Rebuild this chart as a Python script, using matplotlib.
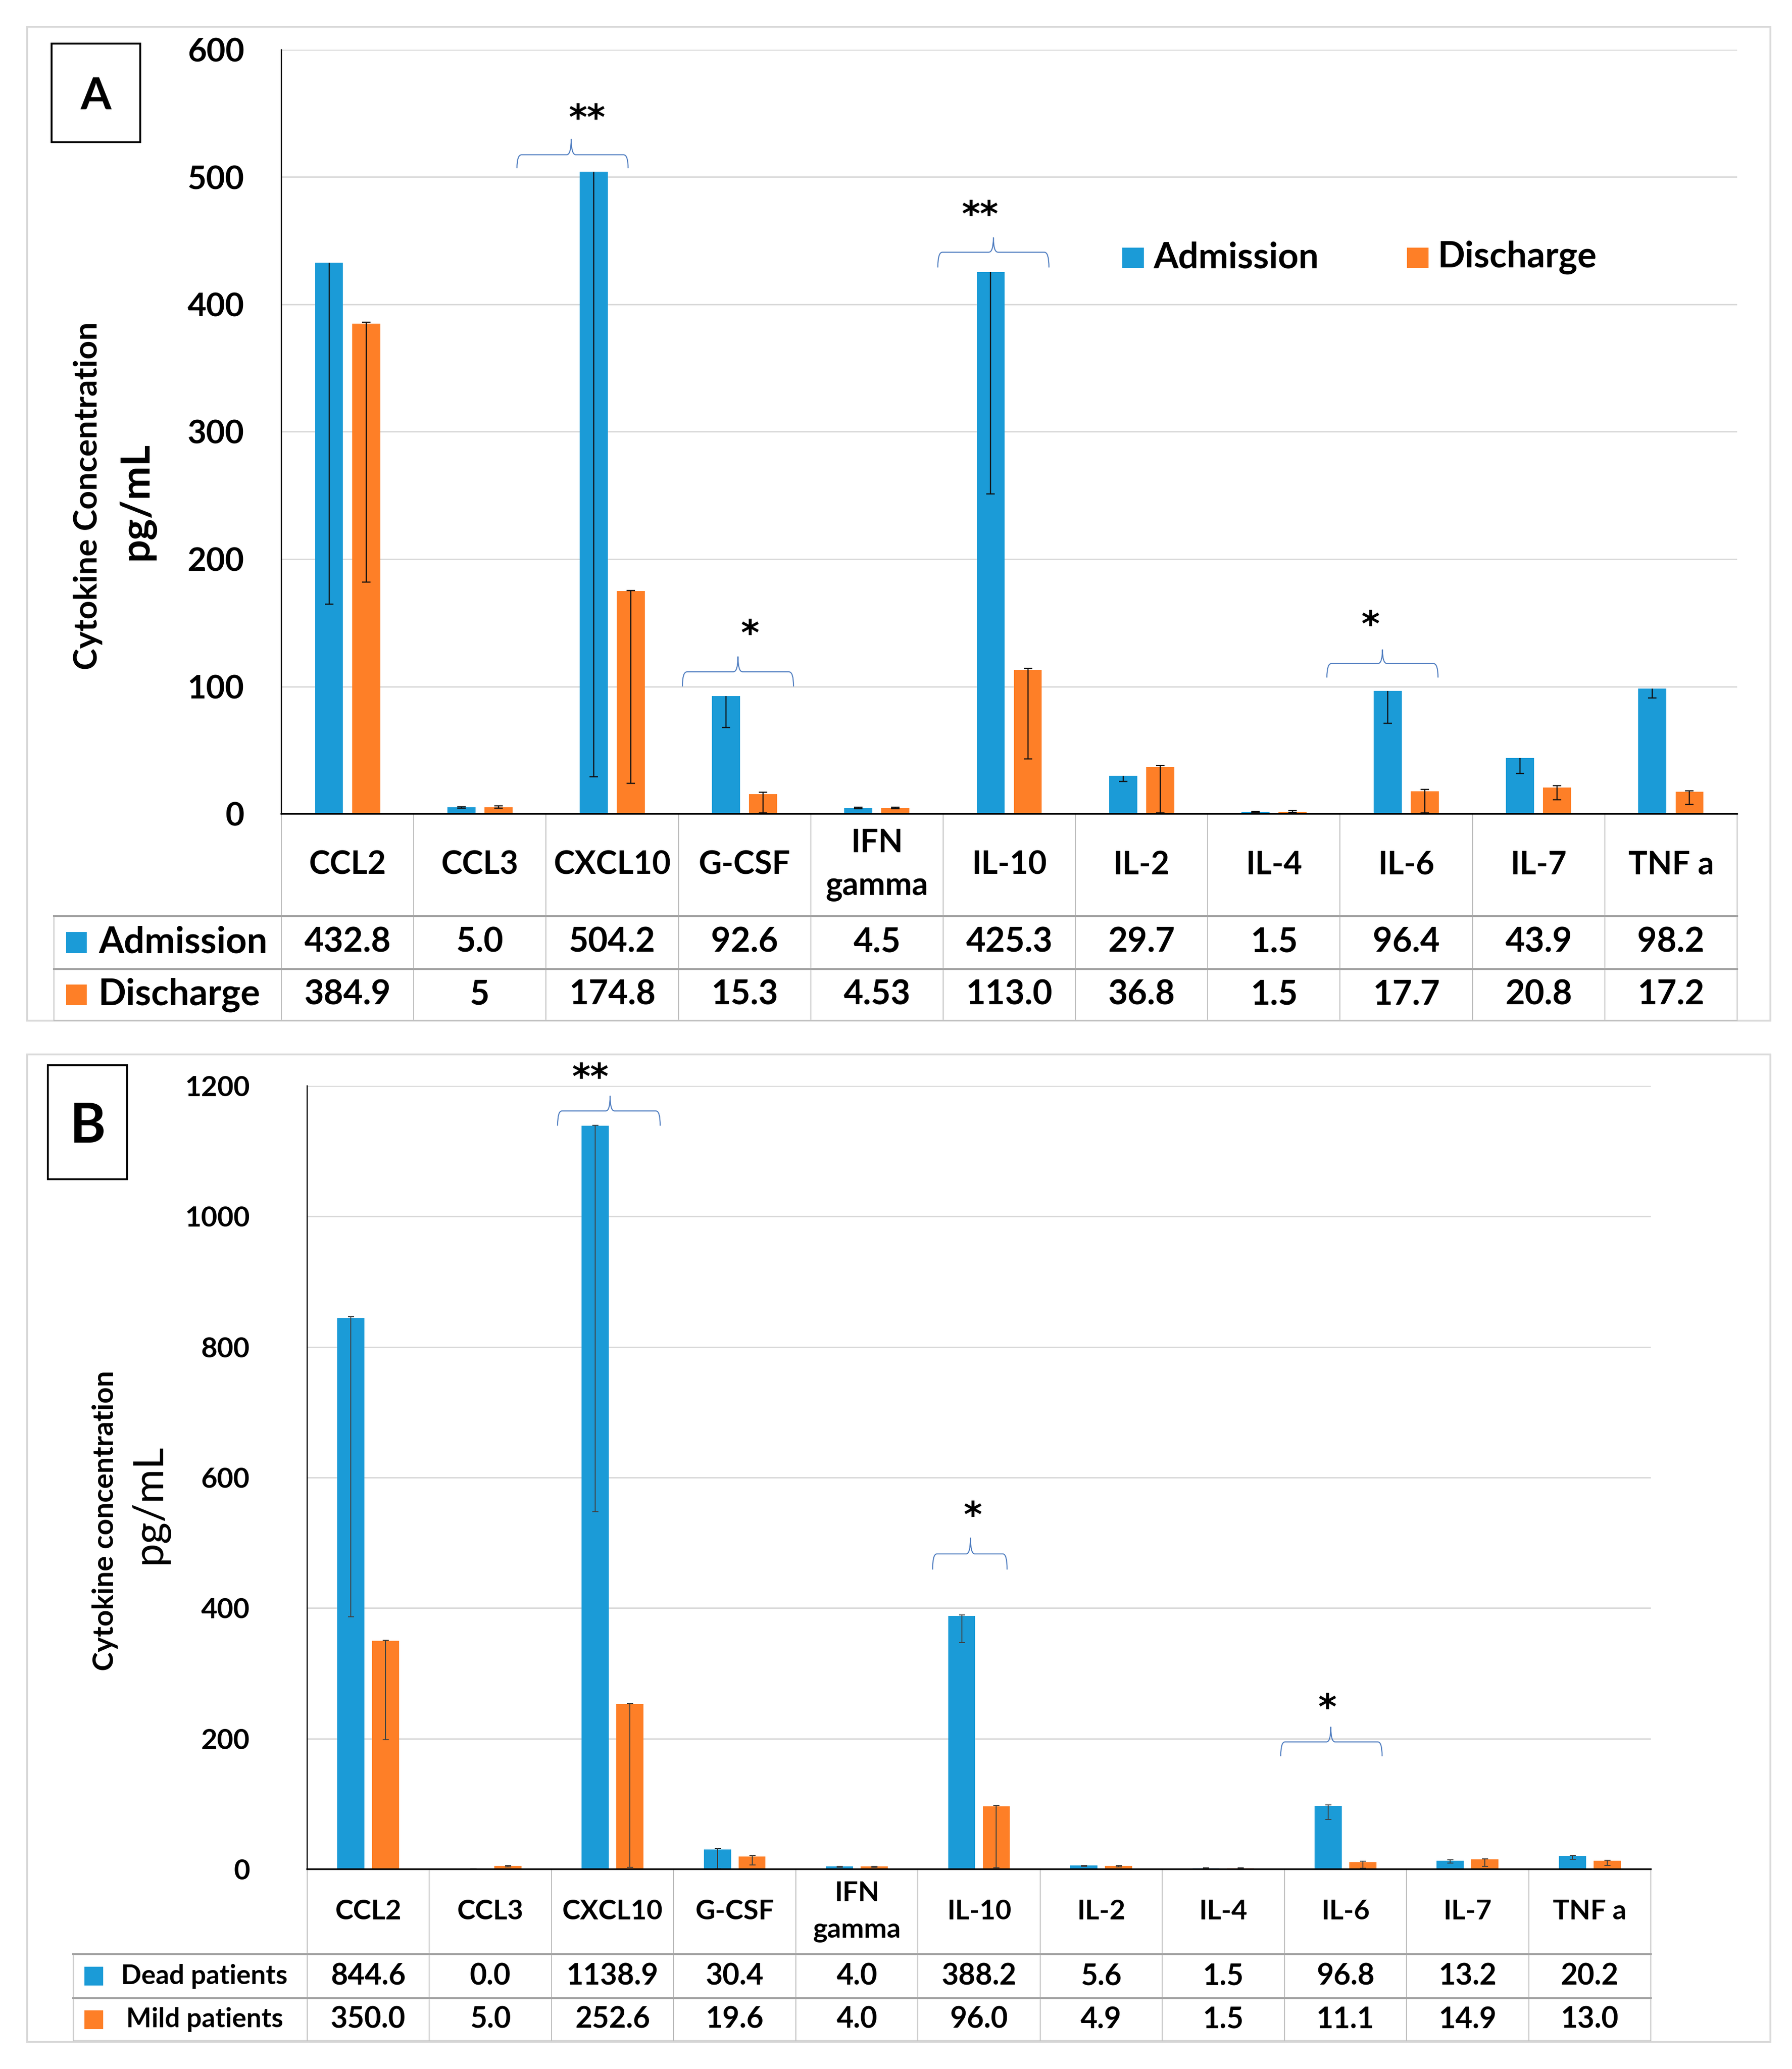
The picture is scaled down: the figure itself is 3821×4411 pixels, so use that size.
import matplotlib
matplotlib.use("Agg")
import matplotlib.pyplot as plt
import matplotlib.transforms as mtransforms
from matplotlib.patches import Rectangle, PathPatch
from matplotlib.path import Path
import numpy as np

plt.rcParams['font.family'] = ['Lato', 'DejaVu Sans']

# ---------------- data ----------------
categories = ["CCL2", "CCL3", "CXCL10", "G-CSF", "IFN\ngamma", "IL-10",
              "IL-2", "IL-4", "IL-6", "IL-7", "TNF a"]

# Panel A: admission vs discharge
a_series = ["Admission", "Discharge"]
a_admission = [432.8, 5.0, 504.2, 92.6, 4.5, 425.3, 29.7, 1.5, 96.4, 43.9, 98.2]
a_discharge = [384.9, 5.0, 174.8, 15.3, 4.53, 113.0, 36.8, 1.5, 17.7, 20.8, 17.2]
a_admission_txt = ["432.8", "5.0", "504.2", "92.6", "4.5", "425.3", "29.7", "1.5", "96.4", "43.9", "98.2"]
a_discharge_txt = ["384.9", "5", "174.8", "15.3", "4.53", "113.0", "36.8", "1.5", "17.7", "20.8", "17.2"]
a_adm_err_lo = [268.0, 0.5, 475.0, 25.0, 0.5, 174.0, 4.4, 0.3, 25.4, 12.2, 7.4]
a_adm_err_hi = [0.0, 0.5, 0.0, 0.0, 0.5, 0.0, 0.0, 0.3, 0.0, 0.0, 0.0]
a_dis_err_lo = [203.0, 0.5, 151.0, 14.5, 0.5, 70.0, 36.0, 0.5, 17.0, 9.8, 10.0]
a_dis_err_hi = [1.0, 1.3, 0.5, 1.6, 0.8, 1.2, 1.0, 1.0, 1.3, 1.3, 1.0]
a_yticks = [0, 100, 200, 300, 400, 500, 600]

# Panel B: dead vs mild patients
b_series = ["Dead patients", "Mild patients"]
b_dead = [844.6, 0.0, 1138.9, 30.4, 4.0, 388.2, 5.6, 1.5, 96.8, 13.2, 20.2]
b_mild = [350.0, 5.0, 252.6, 19.6, 4.0, 96.0, 4.9, 1.5, 11.1, 14.9, 13.0]
b_dead_txt = ["844.6", "0.0", "1138.9", "30.4", "4.0", "388.2", "5.6", "1.5", "96.8", "13.2", "20.2"]
b_mild_txt = ["350.0", "5.0", "252.6", "19.6", "4.0", "96.0", "4.9", "1.5", "11.1", "14.9", "13.0"]
b_dead_err_lo = [458.0, 0.0, 591.0, 29.5, 1.0, 41.0, 1.5, 0.5, 20.3, 4.0, 5.0]
b_dead_err_hi = [2.0, 0.5, 1.0, 1.5, 0.5, 1.5, 0.5, 0.5, 1.5, 1.0, 0.8]
b_mild_err_lo = [152.0, 1.5, 250.0, 13.0, 1.0, 94.0, 1.5, 0.5, 10.0, 10.8, 7.2]
b_mild_err_hi = [1.0, 1.0, 1.0, 1.5, 0.5, 1.5, 0.8, 0.5, 1.0, 0.8, 0.8]
b_yticks = [0, 200, 400, 600, 800, 1000, 1200]

# significance annotations: (category index, stars)
a_sig = [(2, "**"), (3, "*"), (5, "**"), (8, "*")]
b_sig = [(2, "**"), (5, "*"), (8, "*")]

# ---------------- layout helpers ----------------
W, H = 3821, 4411
DPI = 100
PT = 72.0 / DPI
fig = plt.figure(figsize=(W / DPI, H / DPI), dpi=DPI)
fig.patch.set_facecolor("white")


def fx(px):
    return px / W


def fy(py):
    return 1 - py / H


BLUE = "#1b9bd7"
ORANGE = "#fe7f27"
GRID = "#d9d9d9"
TABLE = "#bfbfbf"
BRACE = "#4f7dc0"

# brace geometry (layout, offsets relative to category centre; y in data units)
a_brace_geom = {
    2: dict(x0=-0.72, x1=0.12, xt=-0.31, ye=507, yf=517.5, yt=530, sx=-0.19, sy=553),
    3: dict(x0=-0.47, x1=0.37, xt=-0.05, ye=100, yf=111.5, yt=123.5, sx=0.04, sy=148),
    5: dict(x0=-0.54, x1=0.30, xt=-0.12, ye=429, yf=441, yt=452.5, sx=-0.22, sy=477),
    8: dict(x0=-0.60, x1=0.24, xt=-0.18, ye=107, yf=118, yt=129, sx=-0.27, sy=155),
}
b_brace_geom = {
    2: dict(x0=-0.45, x1=0.39, xt=-0.02, ye=1139, yf=1161.6, yt=1184.7, sx=-0.18, sy=1226),
    5: dict(x0=-0.38, x1=0.23, xt=-0.07, ye=459, yf=483, yt=508, sx=-0.05, sy=555),
    8: dict(x0=-0.53, x1=0.30, xt=-0.12, ye=173, yf=195, yt=218, sx=-0.15, sy=260),
}


def draw_brace(ax, xc, g, lw):
    dx = 0.035
    x0, x1, xt = xc + g["x0"], xc + g["x1"], xc + g["xt"]
    ye, yf, yt = g["ye"], g["yf"], g["yt"]
    verts = [(x0, ye), (x0, yf), (x0 + dx, yf),
             (xt - dx, yf),
             (xt, yf), (xt, yt),
             (xt, yf), (xt + dx, yf),
             (x1 - dx, yf),
             (x1, yf), (x1, ye)]
    codes = [Path.MOVETO, Path.CURVE3, Path.CURVE3,
             Path.LINETO,
             Path.CURVE3, Path.CURVE3,
             Path.CURVE3, Path.CURVE3,
             Path.LINETO,
             Path.CURVE3, Path.CURVE3]
    ax.add_patch(PathPatch(Path(verts, codes), facecolor="none",
                           edgecolor=BRACE, lw=lw, clip_on=False))


def errbars(ax, xpos, vals, lo, hi, ecolor, elw, capw):
    xpos = np.asarray(xpos, float)
    vals = np.asarray(vals, float)
    lo = np.asarray(lo, float)
    hi = np.asarray(hi, float)
    ax.errorbar(xpos, vals, yerr=[lo, hi], fmt="none", ecolor=ecolor,
                elinewidth=elw, capsize=0, zorder=3)
    m_lo = lo > 0
    m_hi = hi > 0
    ax.plot(xpos[m_lo], (vals - lo)[m_lo], linestyle="none", marker="_",
            markersize=capw, markeredgewidth=elw, color=ecolor, zorder=3)
    ax.plot(xpos[m_hi], (vals + hi)[m_hi], linestyle="none", marker="_",
            markersize=capw, markeredgewidth=elw, color=ecolor, zorder=3)


def panel(ax_box, ylim, yticks, s1, s2, e1, e2, width, off, ecolor, elw, capw,
          tick_fs, tick_pad):
    ax = fig.add_axes(ax_box)
    x = np.arange(len(categories))
    ax.bar(x - off, s1, width, color=BLUE, zorder=2)
    ax.bar(x + off, s2, width, color=ORANGE, zorder=2)
    errbars(ax, x - off, s1, e1[0], e1[1], ecolor, elw, capw)
    errbars(ax, x + off, s2, e2[0], e2[1], ecolor, elw, capw)
    ax.set_xlim(-0.5, len(categories) - 0.5)
    ax.set_ylim(*ylim)
    ax.set_yticks(yticks)
    ax.set_yticklabels([str(t) for t in yticks], fontsize=tick_fs, fontweight="bold")
    ax.set_xticks([])
    ax.tick_params(axis="y", length=0, pad=tick_pad)
    ax.yaxis.grid(True, color=GRID, lw=3 * PT, zorder=0)
    ax.set_axisbelow(True)
    for s in ("top", "right"):
        ax.spines[s].set_visible(False)
    ax.spines["left"].set_color("black")
    ax.spines["left"].set_linewidth(2.5 * PT)
    ax.spines["bottom"].set_color("black")
    ax.spines["bottom"].set_linewidth(3.5 * PT)
    ax.spines["left"].set_zorder(4)
    ax.spines["bottom"].set_zorder(4)
    return ax


def table(ax, top, row_bounds, left_px, right_px, txt1, txt2, names, cat_fs,
          val_fs, name_fs, sq_x, sq_w, text_x, name_ha, cat_linesp):
    trans = mtransforms.blended_transform_factory(ax.transData, fig.transFigure)
    bottom = row_bounds[-1]
    for k in range(len(categories) + 1):
        xk = k - 0.5
        ax.plot([xk, xk], [fy(top), fy(bottom)], transform=trans, color=TABLE,
                lw=2 * PT, clip_on=False, zorder=1)
    fig.add_artist(plt.Line2D([fx(left_px), fx(left_px)],
                              [fy(row_bounds[0]), fy(bottom)],
                              transform=fig.transFigure, color=TABLE, lw=2 * PT))
    for yb in row_bounds[:-1]:
        fig.add_artist(plt.Line2D([fx(left_px), fx(right_px)], [fy(yb), fy(yb)],
                                  transform=fig.transFigure, color="#a6a6a6",
                                  lw=4 * PT))
    fig.add_artist(plt.Line2D([fx(left_px), fx(right_px)], [fy(bottom), fy(bottom)],
                              transform=fig.transFigure, color=TABLE, lw=2 * PT))
    cy = (top + row_bounds[0]) / 2
    for i, c in enumerate(categories):
        ax.text(i, fy(cy), c, transform=trans, ha="center", va="center",
                fontsize=cat_fs, fontweight="bold", linespacing=cat_linesp,
                clip_on=False)
    rows = [(txt1, BLUE, names[0]), (txt2, ORANGE, names[1])]
    for r, (txts, col, name) in enumerate(rows):
        y0, y1 = row_bounds[r], row_bounds[r + 1]
        yc = (y0 + y1) / 2
        for i, t in enumerate(txts):
            ax.text(i, fy(yc), t, transform=trans, ha="center", va="center",
                    fontsize=val_fs, fontweight="bold", clip_on=False)
        fig.add_artist(Rectangle((fx(sq_x), fy(yc + sq_w / 2)), sq_w / W, sq_w / H,
                                 transform=fig.transFigure, facecolor=col,
                                 edgecolor="none"))
        fig.text(fx(text_x), fy(yc), name, ha=name_ha, va="center",
                 fontsize=name_fs, fontweight="bold")


def panel_border(x0, y0, x1, y1):
    fig.add_artist(Rectangle((fx(x0), fy(y1)), fx(x1) - fx(x0), fy(y0) - fy(y1),
                             transform=fig.transFigure, fill=False,
                             edgecolor="#d9d9d9", lw=4 * PT))


def letter_box(x0, y0, x1, y1, letter, fs):
    fig.add_artist(Rectangle((fx(x0), fy(y1)), fx(x1) - fx(x0), fy(y0) - fy(y1),
                             transform=fig.transFigure, fill=False,
                             edgecolor="black", lw=4 * PT))
    fig.text(fx((x0 + x1) / 2), fy((y0 + y1) / 2), letter, ha="center",
             va="center_baseline", fontsize=fs, fontweight="bold")


def stars(ax, xc, g, s, fs):
    ax.annotate(s, (xc + g["sx"], g["sy"]), xytext=(0, -0.56 * fs),
                textcoords="offset points", ha="center", va="baseline",
                fontsize=fs, fontweight="bold", family="DejaVu Sans",
                annotation_clip=False)


# ================= Panel A =================
panel_border(58, 57, 3775, 2176)
letter_box(110, 93, 299, 303, "A", 68)
axA = panel([fx(600), fy(1735), fx(3704) - fx(600), fy(106) - fy(1735)],
            (0, 600), a_yticks, a_admission, a_discharge,
            [a_adm_err_lo, a_adm_err_hi], [a_dis_err_lo, a_dis_err_hi],
            0.212, 0.14, "#111111", 2.5 * PT, 18 * PT, 50, 57)
for idx, s in a_sig:
    draw_brace(axA, idx, a_brace_geom[idx], 2.2 * PT)
    stars(axA, idx, a_brace_geom[idx], s, 54)

fig.text(fx(188), fy(1057), "Cytokine Concentration", rotation=90, ha="center",
         va="center", fontsize=50, fontweight="bold")
fig.text(fx(291), fy(1068), "pg/mL", rotation=90, ha="center", va="center",
         fontsize=62, fontweight="bold")

for col, name, sx in [(BLUE, a_series[0], 2393), (ORANGE, a_series[1], 3000)]:
    fig.add_artist(Rectangle((fx(sx), fy(571)), 46 / W, 43 / H,
                             transform=fig.transFigure, facecolor=col,
                             edgecolor="none"))
    fig.text(fx(sx + 66), fy(549), name, ha="left", va="center", fontsize=55,
             fontweight="bold")

table(axA, 1735, [1953, 2066, 2176], 115, 3704, a_admission_txt, a_discharge_txt,
      a_series, 49, 52, 56, 141, 44, 210, "left", 1.55)

# ================= Panel B =================
panel_border(58, 2248, 3775, 4353)
letter_box(102, 2271, 271, 2514, "B", 84)
axB = panel([fx(655), fy(3985), fx(3520) - fx(655), fy(2315) - fy(3985)],
            (0, 1200), b_yticks, b_dead, b_mild,
            [b_dead_err_lo, b_dead_err_hi], [b_mild_err_lo, b_mild_err_hi],
            0.222, 0.142, "#404040", 2.0 * PT, 13 * PT, 43, 88)
for idx, s in b_sig:
    draw_brace(axB, idx, b_brace_geom[idx], 2.2 * PT)
    stars(axB, idx, b_brace_geom[idx], s, 54)

fig.text(fx(224), fy(3242), "Cytokine concentration", rotation=90, ha="center",
         va="center", fontsize=44, fontweight="bold")
fig.text(fx(318), fy(3207), "pg/mL", rotation=90, ha="center", va="center",
         fontsize=64, fontweight="normal")

table(axB, 3985, [4166, 4260, 4351], 156, 3520, b_dead_txt, b_mild_txt,
      b_series, 42, 45, 41, 180, 40, 436, "center", 1.55)

fig.savefig("out.png", dpi=DPI, facecolor="white")
